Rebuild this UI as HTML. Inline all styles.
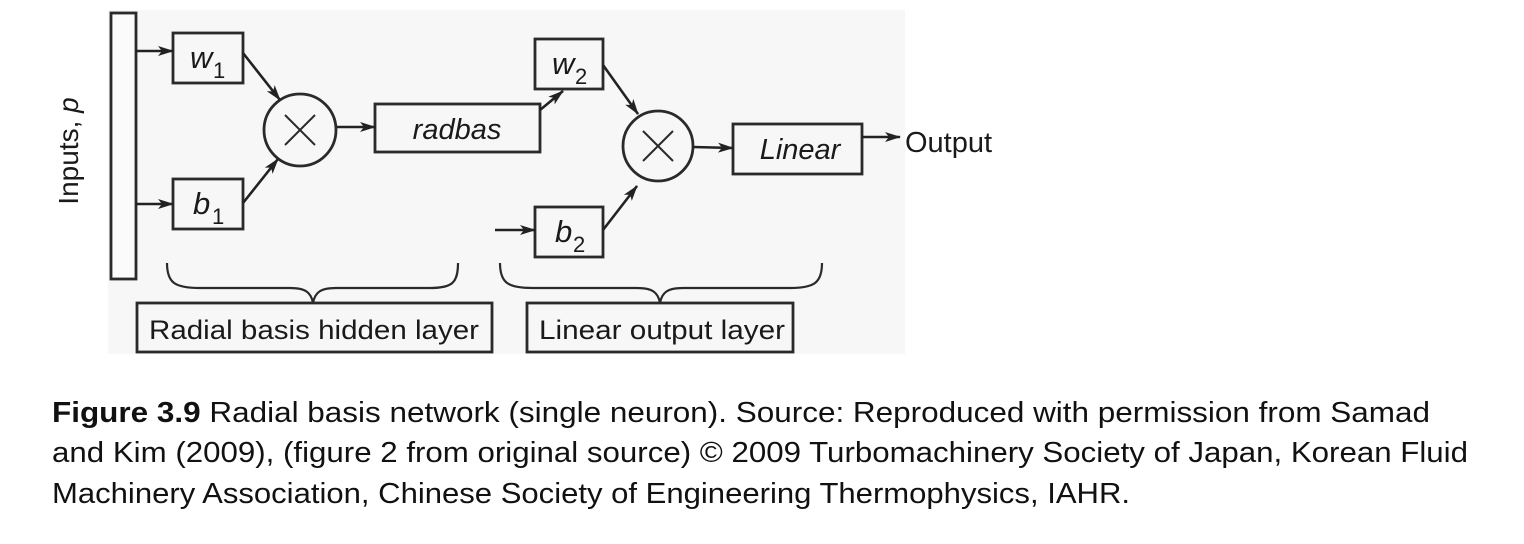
<!DOCTYPE html>
<html><head><meta charset="utf-8"><style>
body{margin:0;background:#fff;}
svg{display:block}
.cap{font-family:"Liberation Sans",sans-serif;font-size:29px;fill:#111}
</style></head><body>
<svg width="1524" height="544" xmlns="http://www.w3.org/2000/svg">
<defs><marker id="a" markerWidth="16" markerHeight="12" refX="15" refY="6" orient="auto" markerUnits="userSpaceOnUse"><path d="M0,1 L16,6 L0,11 L4,6 z" fill="#222"/></marker></defs>
<rect x="108" y="10" width="797" height="344" fill="#f7f7f7"/>
<g fill="none" stroke="#2a2a2a" stroke-width="2.8">
<rect x="111" y="13" width="25" height="266" fill="#fbfbfb"/>
<rect x="173" y="33" width="70" height="50"/>
<rect x="173" y="179" width="70" height="50"/>
<circle cx="300" cy="130" r="36"/>
<path d="M285,115 L315,145 M315,115 L285,145" stroke-width="2"/>
<rect x="375" y="104" width="165" height="48"/>
<rect x="535" y="39" width="68" height="50"/>
<rect x="535" y="207" width="68" height="50"/>
<circle cx="658" cy="146" r="35"/>
<path d="M643,131 L673,161 M673,131 L643,161" stroke-width="2"/>
<rect x="733" y="124" width="129" height="50"/>
<rect x="137" y="303" width="355" height="49"/>
<rect x="527" y="303" width="266" height="49"/>
<path d="M167,263 C167,283 175,288 200,288 L290,288 C305,288 311,292 313,303 C315,292 321,288 336,288 L430,288 C452,288 458,283 458,263" stroke-width="2.2"/>
<path d="M500,263 C500,283 508,288 533,288 L637,288 C652,288 658,292 660,303 C662,292 668,288 683,288 L790,288 C814,288 822,283 822,263" stroke-width="2.2"/>
</g>
<g stroke="#222" stroke-width="2.6" fill="none" marker-end="url(#a)">
<line x1="136" y1="51" x2="173" y2="51"/>
<line x1="136" y1="204" x2="173" y2="204"/>
<line x1="243" y1="53" x2="280" y2="100"/>
<line x1="243" y1="203" x2="278" y2="159"/>
<line x1="337" y1="127" x2="375" y2="127"/>
<line x1="540" y1="110" x2="563" y2="91"/>
<line x1="603" y1="65" x2="638" y2="114"/>
<line x1="603" y1="230" x2="637" y2="186"/>
<line x1="495" y1="230" x2="535" y2="230"/>
<line x1="693" y1="147" x2="733" y2="148"/>
<line x1="862" y1="137" x2="900" y2="137"/>
</g>
<g font-family="Liberation Sans,sans-serif" fill="#1a1a1a">
<text x="190" y="68" font-size="31" font-style="italic">w</text><text x="213" y="78" font-size="22">1</text>
<text x="193" y="214" font-size="31" font-style="italic">b</text><text x="212" y="224" font-size="22">1</text>
<text x="552" y="74" font-size="31" font-style="italic">w</text><text x="575" y="84" font-size="22">2</text>
<text x="555" y="242" font-size="31" font-style="italic">b</text><text x="573" y="252" font-size="22">2</text>
<text x="457" y="139" font-size="29" font-style="italic" text-anchor="middle">radbas</text>
<text x="800" y="159" font-size="29" font-style="italic" text-anchor="middle">Linear</text>
<text x="905" y="152" font-size="29">Output</text>
<text x="314" y="339" font-size="27" text-anchor="middle" textLength="330" lengthAdjust="spacingAndGlyphs">Radial basis hidden layer</text>
<text x="662" y="339" font-size="27" text-anchor="middle" textLength="246" lengthAdjust="spacingAndGlyphs">Linear output layer</text>
<text transform="translate(78,151) rotate(-90)" font-size="28" text-anchor="middle">Inputs, <tspan font-style="italic">p</tspan></text>
</g>
<text class="cap" x="52" y="422" textLength="1378" lengthAdjust="spacingAndGlyphs"><tspan font-weight="bold">Figure 3.9</tspan>  Radial basis network (single neuron). Source: Reproduced with permission from Samad</text>
<text class="cap" x="52" y="462" textLength="1416" lengthAdjust="spacingAndGlyphs">and Kim (2009), (figure 2 from original source) © 2009 Turbomachinery Society of Japan, Korean Fluid</text>
<text class="cap" x="52" y="503" textLength="1078" lengthAdjust="spacingAndGlyphs">Machinery Association, Chinese Society of Engineering Thermophysics, IAHR.</text>
</svg>
</body></html>
